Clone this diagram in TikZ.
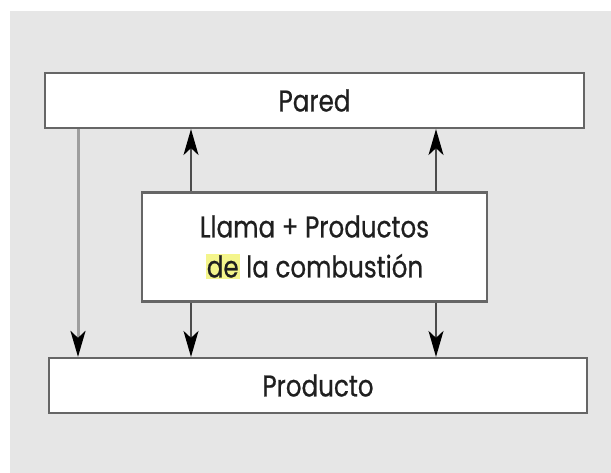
\documentclass[tikz,border=0pt]{standalone}
\usepackage{fontspec}
\setmainfont{Poppins}[FakeStretch=0.82, FakeBold=0.6]
\usetikzlibrary{positioning,arrows.meta}
\definecolor{fondo}{HTML}{E6E6E6}
\definecolor{resalte}{HTML}{F4F58C}

\begin{document}
\begin{tikzpicture}[x=1pt, y=-1pt, >={Stealth[length=26pt,width=15pt,inset=7pt,color=black]},
  every node/.style={font=\fontsize{30}{40}\selectfont, text=black!88}]
\tikzset{
  caja/.style={
    draw=black!60,
    line width=2.2pt,
    fill=white,
    rectangle,
    inner sep=0pt,
    minimum height=55pt,
  },
  flecha/.style={->, draw=black!70, line width=1.7pt},
  flechagris/.style={->, draw=black!38, line width=3pt}
}
\useasboundingbox (0,0) rectangle (611,473);
\fill[fondo] (10,11) rectangle (611,473);
\node[caja, minimum width=539pt] (pared) at (314.5,100.5) {Pared};
\node[caja, minimum width=345pt, minimum height=109pt, align=center] (llama) at (314.5,247)
  {Llama + Productos\\{\setlength{\fboxsep}{1pt}\colorbox{resalte}{de}} la combustión};
\node[caja, minimum width=538pt] (producto) at (318,385.5) {Producto};
\coordinate (izq) at (78,0);
\coordinate (c1) at (191,0);
\coordinate (c2) at (436,0);
\draw[flechagris] (pared.south -| izq) -- (producto.north -| izq);
\draw[flecha] (llama.north -| c1) -- (pared.south -| c1);
\draw[flecha] (llama.north -| c2) -- (pared.south -| c2);
\draw[flecha] (llama.south -| c1) -- (producto.north -| c1);
\draw[flecha] (llama.south -| c2) -- (producto.north -| c2);
\end{tikzpicture}
\end{document}
